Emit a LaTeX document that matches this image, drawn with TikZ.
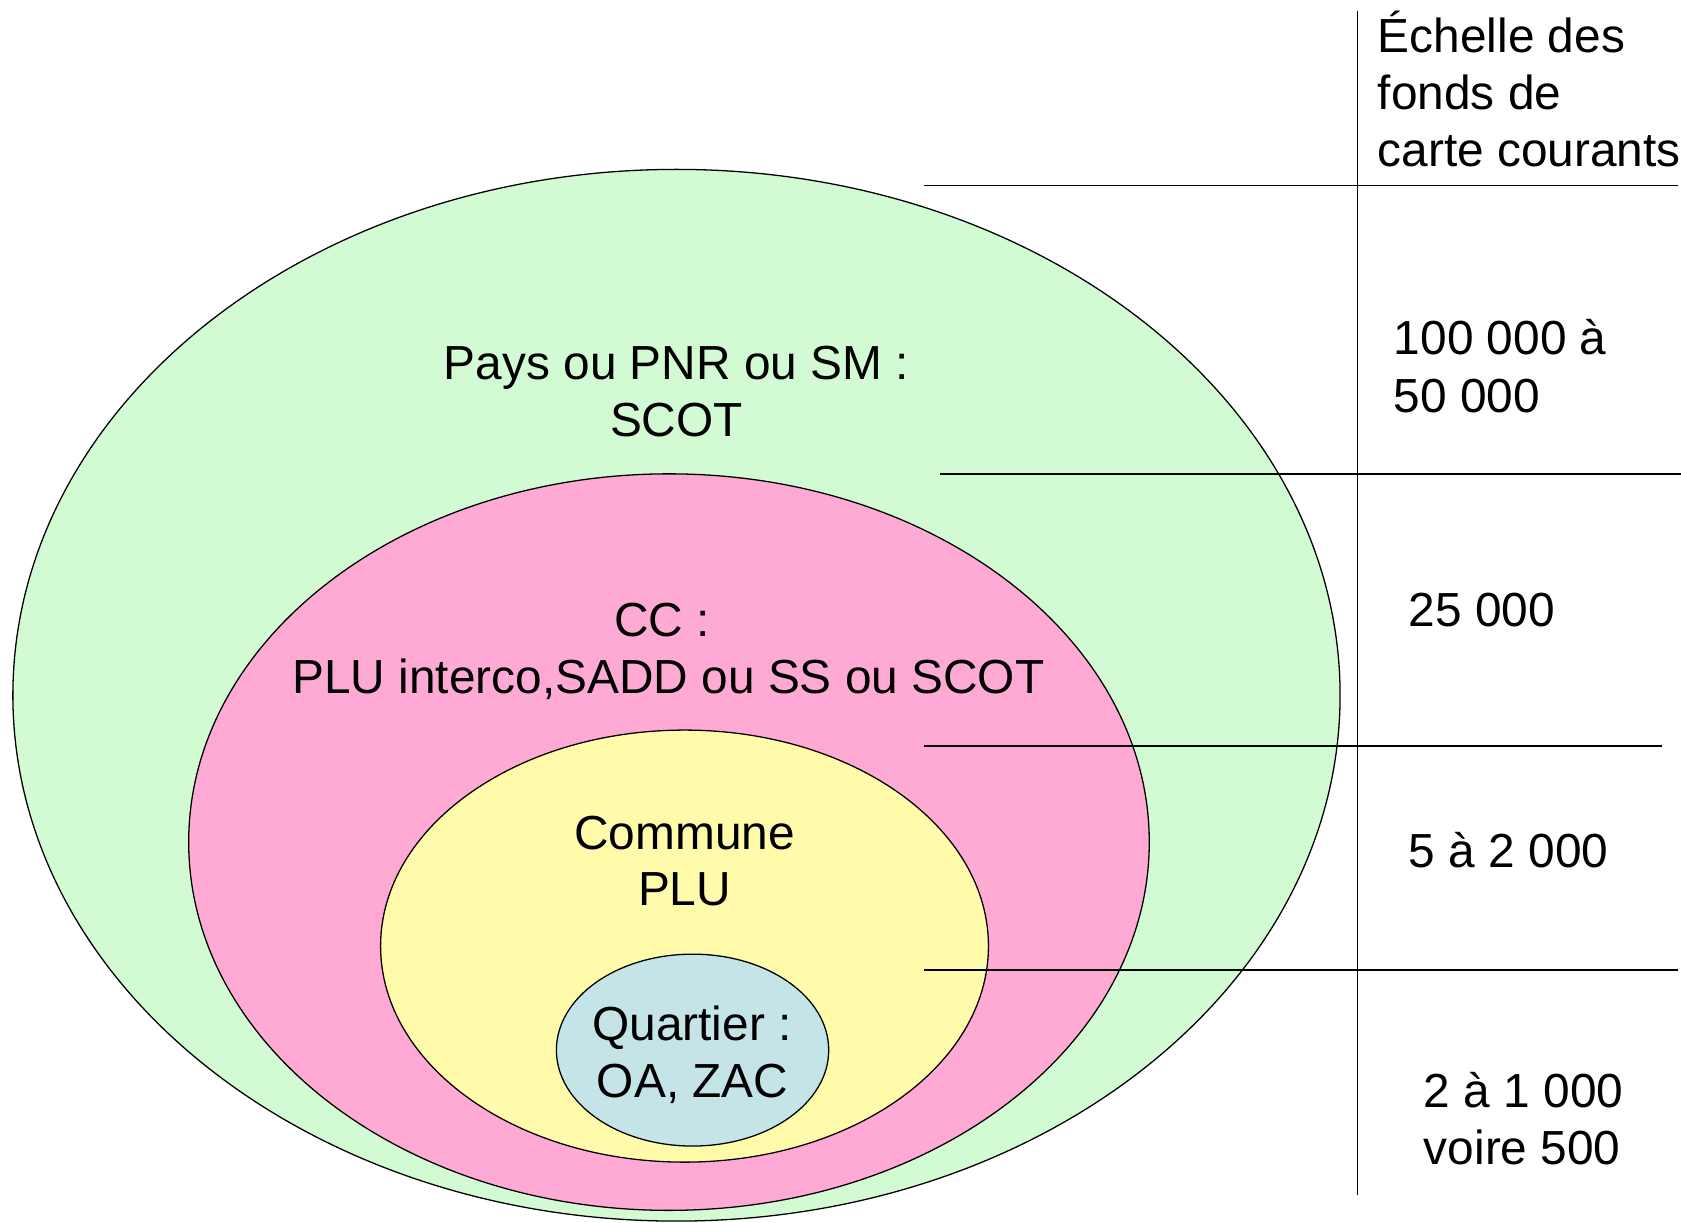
\documentclass[tikz,border=0pt]{standalone}
\usepackage{fontspec}
\setmainfont{Liberation Sans}
\definecolor{cgreen}{RGB}{211,251,211}
\definecolor{cpink}{RGB}{255,170,212}
\definecolor{cyellow}{RGB}{255,251,170}
\definecolor{cblue}{RGB}{196,228,232}
\tikzset{
  ring/.style={draw=black, line width=1.2pt},
  rule/.style={draw=black, line width=1.4pt},
  lbl/.style={inner sep=0pt, anchor=base, font=\fontsize{44.6}{53}\selectfont},
  scl/.style={inner sep=0pt, anchor=base west, font=\fontsize{44.6}{53}\selectfont},
}
\begin{document}
\begin{tikzpicture}[x=1pt,y=-1pt]
\useasboundingbox (0,0) rectangle (1568,1140);
% nested ellipses
\path[ring, fill=cgreen]  (631,648.5) ellipse [x radius=619pt, y radius=490.5pt];
\path[ring, fill=cpink]   (624,785.5) ellipse [x radius=448pt, y radius=343.5pt];
\path[ring, fill=cyellow] (638.5,882.5) ellipse [x radius=283.5pt, y radius=201.5pt];
\path[ring, fill=cblue]   (646,979.5) ellipse [x radius=127pt, y radius=89.5pt];
% scale table
\draw[rule] (1266,10) -- (1266,1115);
\draw[rule] (862,173) -- (1565,173);
\draw[rule] (877,442) -- (1568,442);
\draw[rule] (862,696) -- (1550,696);
\draw[rule] (862,905) -- (1565,905);
% ellipse labels
\node[lbl] (pays) at (631,354) {Pays ou PNR ou SM :};
\node[lbl] (scot) at (631,407) {SCOT};
\node[lbl] (cc) at (617.5,594) {CC :};
\node[lbl] (plui) at (623.5,647) {PLU interco,SADD ou SS ou SCOT};
\node[lbl] (commune) at (638.5,792) {Commune};
\node[lbl] (plu) at (638.5,845) {PLU};
\node[lbl] (quartier) at (645.5,971) {Quartier :};
\node[lbl] (oazac) at (646,1024) {OA, ZAC};
% scale labels
\node[scl] (h1) at (1285,49) {Échelle des};
\node[scl] (h2) at (1285,102) {fonds de};
\node[scl] (h3) at (1285,155) {carte courants};
\node[scl] (s1a) at (1300,331) {100 000 à};
\node[scl] (s1b) at (1300,385) {50 000};
\node[scl] (s2) at (1314,584) {25 000};
\node[scl] (s3) at (1314,809) {5 à 2 000};
\node[scl] (s4a) at (1328,1033) {2 à 1 000};
\node[scl] (s4b) at (1328,1086) {voire 500};
\end{tikzpicture}
\end{document}
